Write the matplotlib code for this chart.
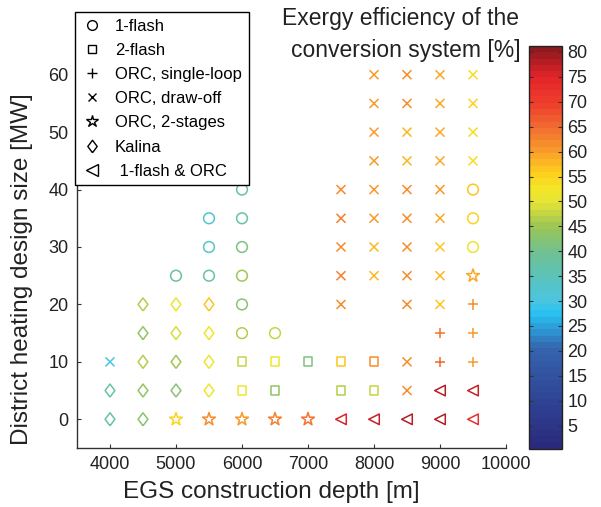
import matplotlib

matplotlib.use("Agg")
import matplotlib.pyplot as plt
from matplotlib.colors import LinearSegmentedColormap, Normalize
from matplotlib.cm import ScalarMappable
from matplotlib.lines import Line2D

plt.rcParams["font.family"] = ["Liberation Sans", "DejaVu Sans"]

# exergy efficiency [%] of each conversion technology, per (depth [m], DH size [MW])
flash1_depth = [6000, 5500, 6000, 5500, 6000, 5000, 5500, 6000, 6000, 6000, 6500, 9500, 9500, 9500]
flash1_size = [40, 35, 35, 30, 30, 25, 25, 25, 20, 15, 15, 40, 35, 30]
flash1_eff = [37, 33, 38, 33, 41, 39, 38, 45, 43, 47, 48, 56, 55, 52]

flash2_depth = [6000, 6500, 7000, 7500, 8000, 6000, 6500, 7500, 8000]
flash2_size = [10, 10, 10, 10, 10, 5, 5, 5, 5]
flash2_eff = [48, 51, 42, 57, 62, 52, 44, 47, 48]

orc_single_depth = [9500, 9000, 9500, 9000, 9500]
orc_single_size = [20, 15, 15, 10, 10]
orc_single_eff = [61, 64, 60, 65, 60]

orc_drawoff_depth = [4000,
                     8000, 8500, 9000, 9500,
                     8000, 8500, 9000, 9500,
                     8000, 8500, 9000, 9500,
                     8000, 8500, 9000, 9500,
                     7500, 8000, 8500, 9000,
                     7500, 8000, 8500, 9000,
                     7500, 8000, 8500, 9000,
                     7500, 8000, 8500, 9000,
                     7500, 8500, 9000,
                     8500, 8500]
orc_drawoff_size = [10,
                    60, 60, 60, 60,
                    55, 55, 55, 55,
                    50, 50, 50, 50,
                    45, 45, 45, 45,
                    40, 40, 40, 40,
                    35, 35, 35, 35,
                    30, 30, 30, 30,
                    25, 25, 25, 25,
                    20, 20, 20,
                    10, 5]
orc_drawoff_eff = [30,
                   60, 61, 59, 54,
                   60, 61, 59, 55,
                   60, 58, 59, 54,
                   60, 58, 59, 54,
                   62, 60, 61, 60,
                   63, 60, 61, 59,
                   62, 58, 61, 57,
                   63, 58, 61, 58,
                   62, 61, 57,
                   61, 61]

orc_2stage_depth = [5000, 5500, 6000, 6500, 7000, 9500]
orc_2stage_size = [0, 0, 0, 0, 0, 25]
orc_2stage_eff = [55, 61, 60, 63, 64, 59]

kalina_depth = [4000, 4500, 4000, 4500, 5000, 5500, 4500, 5000, 5500, 4500, 5000, 5500, 4500, 5000, 5500]
kalina_size = [0, 0, 5, 5, 5, 5, 10, 10, 10, 15, 15, 15, 20, 20, 20]
kalina_eff = [37, 43, 37, 44, 43, 51, 46, 45, 51, 44, 49, 51, 46, 52, 57]

flash_orc_depth = [7500, 8000, 8500, 9000, 9500, 9000, 9500]
flash_orc_size = [0, 0, 0, 0, 0, 5, 5]
flash_orc_eff = [75, 77, 78, 78, 73, 78, 77]

cbar_ticks = list(range(5, 85, 5))
x_ticks = list(range(4000, 11000, 1000))
y_ticks = list(range(0, 70, 10))

# muted jet-like colormap
cmap_stops = [
    (0.0, "#2a2a7c"), (10, "#2f4596"), (20, "#3563ad"), (27, "#27c0f0"),
    (30, "#4cc5e0"), (35, "#5bc3b8"), (40, "#72c18f"), (45, "#9bc556"),
    (50, "#e6e434"), (53, "#f4e529"), (56, "#fdce1c"), (60, "#f8a12a"),
    (65, "#f26e31"), (70, "#ee3f2d"), (75, "#e6262a"), (78, "#bf1e25"),
    (81.2, "#8c1a1e"),
]
VMIN, VMAX = 0.3, 81.2
cmap = LinearSegmentedColormap.from_list(
    "exergy", [((v - VMIN) / (VMAX - VMIN) if v > VMIN else 0.0, c) for v, c in cmap_stops], N=64
)
norm = Normalize(VMIN, VMAX)

diamond = [(0, -1), (0.75, 0), (0, 1), (-0.75, 0), (0, -1)]

SERIES = [
    ("1-flash", flash1_depth, flash1_size, flash1_eff, "o", 60, True),
    ("2-flash", flash2_depth, flash2_size, flash2_eff, "s", 40, True),
    ("ORC, single-loop", orc_single_depth, orc_single_size, orc_single_eff, "+", 55, False),
    ("ORC, draw-off", orc_drawoff_depth, orc_drawoff_size, orc_drawoff_eff, "x", 42, False),
    ("ORC, 2-stages", orc_2stage_depth, orc_2stage_size, orc_2stage_eff, "*", 95, True),
    ("Kalina", kalina_depth, kalina_size, kalina_eff, diamond, 88, True),
    (" 1-flash & ORC", flash_orc_depth, flash_orc_size, flash_orc_eff, "<", 58, True),
]

fig = plt.figure(figsize=(6.01, 5.07), dpi=100)
ax = fig.add_axes([77 / 601, 1 - 448 / 507, 429 / 601, 402 / 507])

handles = []
for label, xs, ys, vals, marker, size, filled in SERIES:
    colors = cmap(norm(vals))
    if filled:
        ax.scatter(xs, ys, s=size, marker=marker, facecolors="none", edgecolors=colors, linewidths=1.1)
    else:
        ax.scatter(xs, ys, s=size, marker=marker, c=colors, linewidths=1.1)
    ms = {"o": 7, "s": 6, "+": 7, "x": 6, "*": 9}.get(marker, 8) if isinstance(marker, str) else 9
    handles.append(Line2D([], [], linestyle="none", marker=marker, color="black",
                          markerfacecolor="none", markersize=ms, markeredgewidth=1.0, label=label))

ax.set_xlim(3500, 10000)
ax.set_ylim(-5, 65)
ax.set_xticks(x_ticks)
ax.set_yticks(y_ticks)
ax.spines["top"].set_visible(False)
ax.spines["right"].set_visible(False)
for side in ("left", "bottom"):
    ax.spines[side].set_color("#333333")
    ax.spines[side].set_linewidth(1.0)
ax.tick_params(direction="in", length=3, labelsize=13, colors="#333333", labelcolor="#222222", pad=6)
ax.set_xlabel("EGS construction depth [m]", fontsize=17.5, color="#222222")
ax.set_ylabel("District heating design size [MW]", fontsize=17.5, color="#222222")
ax.xaxis.set_label_coords(0.453, -0.082)
ax.yaxis.set_label_coords(-0.103, 0.445)

leg = fig.legend(handles=handles, loc="upper left", bbox_to_anchor=(75 / 601, 1 - 12 / 507),
                 borderaxespad=0, fontsize=12, frameon=True, fancybox=False, framealpha=1,
                 edgecolor="black", handlelength=1.2, handletextpad=0.8, labelspacing=0.55,
                 borderpad=0.4)
leg.get_frame().set_linewidth(1.0)

fig.text(401 / 601, 1 - 18 / 507, "Exergy efficiency of the", ha="center", va="center",
         fontsize=16.5, color="#222222")
fig.text(406 / 601, 1 - 50 / 507, "conversion system [%]", ha="center", va="center",
         fontsize=16.5, color="#222222")

cax = fig.add_axes([529 / 601, 1 - 449 / 507, 33 / 601, 403 / 507])
cb = fig.colorbar(ScalarMappable(norm=norm, cmap=cmap), cax=cax, ticks=cbar_ticks)
cb.outline.set_linewidth(1.0)
cb.outline.set_edgecolor("#222222")
cax.tick_params(direction="in", length=3, left=True, right=True, labelsize=13,
                colors="#333333", labelcolor="#222222", pad=4)

fig.savefig("out.png", dpi=100)
